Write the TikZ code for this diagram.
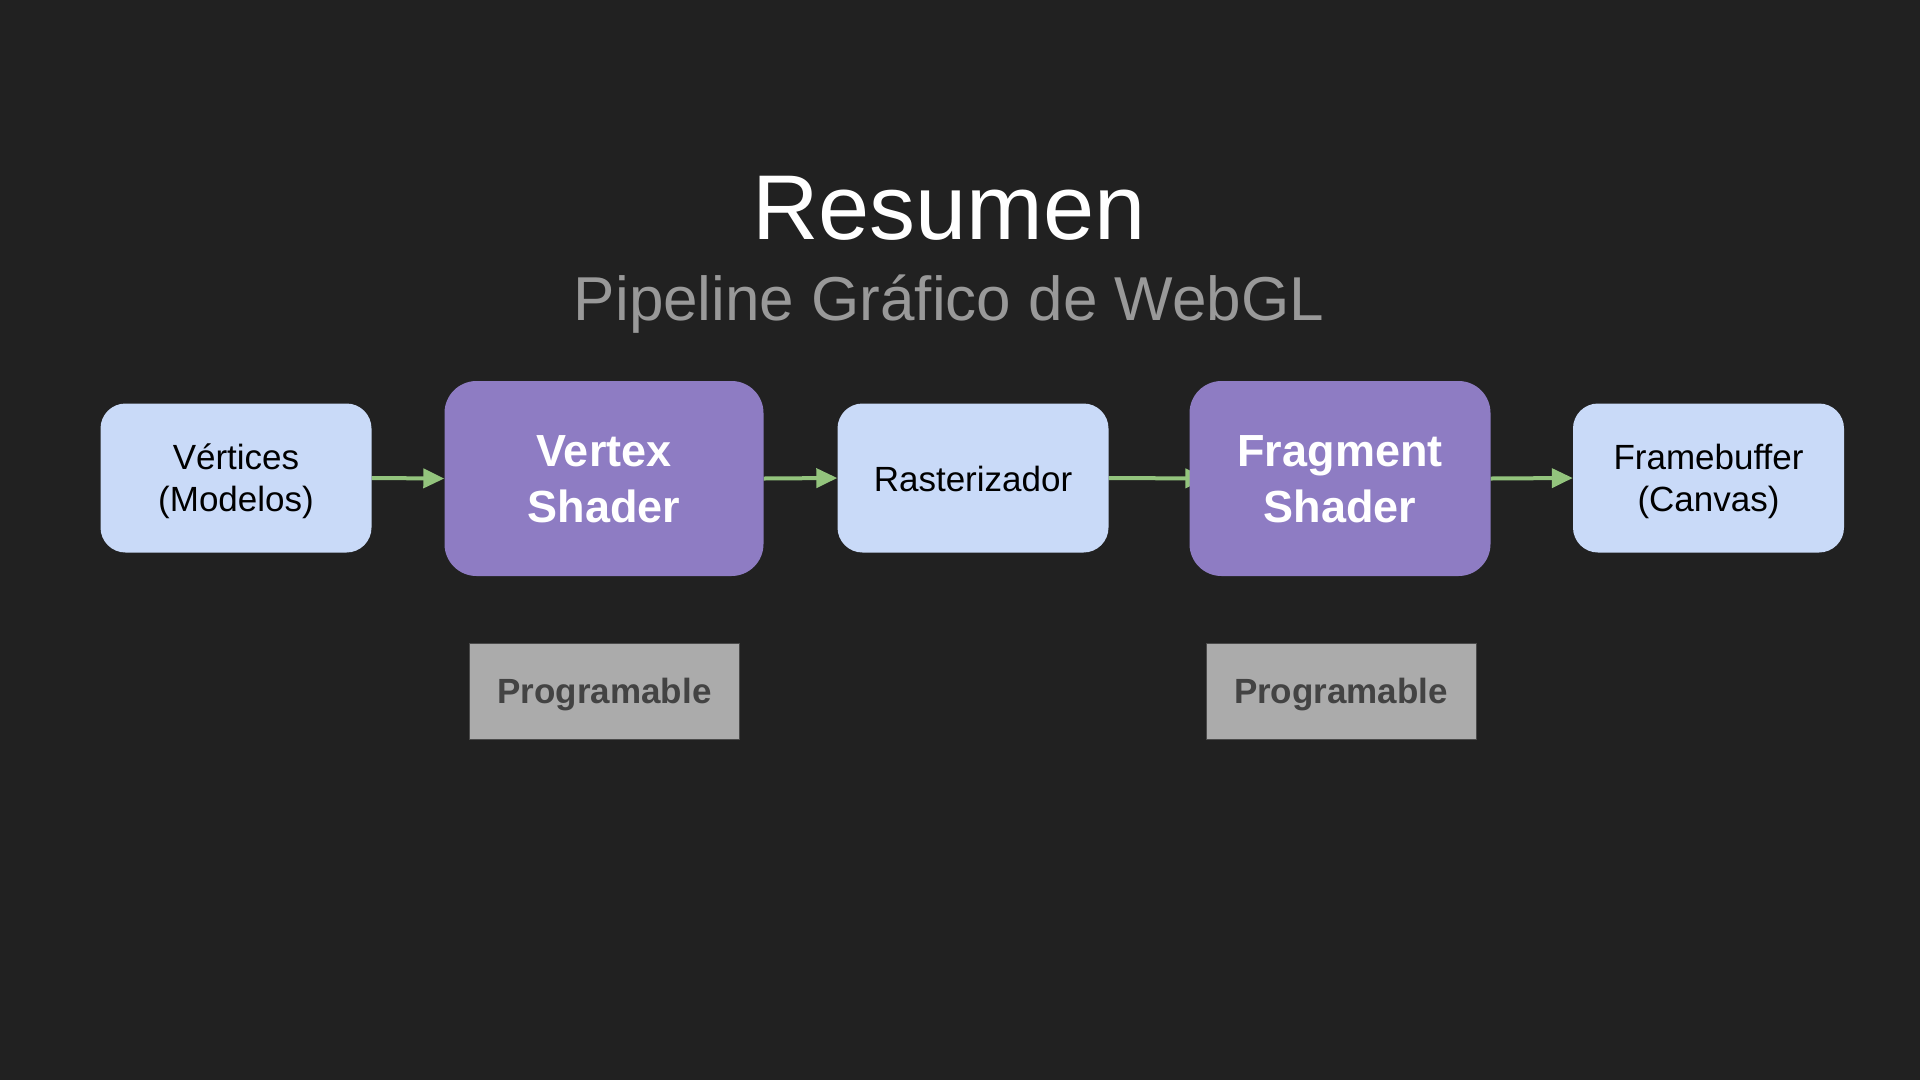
\documentclass[tikz,border=0pt]{standalone}
\usepackage{fontspec}
\setmainfont{Liberation Sans}
\usetikzlibrary{arrows.meta,calc}
\definecolor{bgc}{HTML}{212121}
\definecolor{lightbox}{HTML}{C9DAF8}
\definecolor{purplebox}{HTML}{8E7CC3}
\definecolor{arrowc}{HTML}{93C47D}
\definecolor{progfill}{HTML}{ABABAB}
\definecolor{progtext}{HTML}{434343}
\definecolor{progline}{HTML}{4A4A4A}
\definecolor{subc}{HTML}{999999}
% #1 = height, #2 = depth of the box round the first baseline
\newcommand{\mybt}[3]{\raisebox{0pt}[#1][#2]{\begin{tabular}[t]{@{}c@{}}#3\end{tabular}}}
\pgfdeclarelayer{bglayer}
\pgfdeclarelayer{connlayer}
\pgfsetlayers{bglayer,connlayer,main}
\tikzset{
  lightnode/.style={fill=lightbox, rounded corners=25pt, minimum width=271pt, minimum height=149pt,
    inner sep=0pt, text=black, font=\fontsize{35}{42}\selectfont},
  purplenode/.style={fill=purplebox, rounded corners=32pt, minimum height=195pt,
    inner sep=0pt, text=white, font=\bfseries\fontsize{45}{56}\selectfont},
  prognode/.style={fill=progfill, draw=progline, line width=1pt, minimum width=270pt, minimum height=96pt,
    inner sep=0pt, text=progtext, font=\bfseries\fontsize{35}{42}\selectfont},
  flow/.style={draw=arrowc, line width=4pt, -{Triangle[length=21pt,width=19pt]}},
}
\begin{document}
\begin{tikzpicture}[x=1pt,y=-1pt]
\begin{pgfonlayer}{bglayer}
\fill[bgc] (0,0) rectangle (1920,1080);
\end{pgfonlayer}
\useasboundingbox (0,0) rectangle (1920,1080);

\node[anchor=base, text=white, font=\fontsize{92}{110}\selectfont, inner sep=0pt] (title) at (949,239) {Resumen};
\node[anchor=base, text=subc, font=\fontsize{62}{74}\selectfont, inner sep=0pt] (subtitle) at (949,320) {Pipeline Gráfico de WebGL};

\node[lightnode] (vert) at (236,478) {\mybt{12pt}{30pt}{Vértices\\(Modelos)}};
\node[purplenode, minimum width=319pt] (vs) at (604,478.5) {\mybt{10pt}{33.6pt}{Vertex\\Shader}};
\node[lightnode] (rast) at (973,478) {\mybt{26pt}{0pt}{Rasterizador}};
\node[purplenode, minimum width=301pt] (frag) at (1340,478.5) {\mybt{10pt}{33.6pt}{Fragment\\Shader}};
\node[lightnode] (fb) at (1708.5,478) {\mybt{12pt}{30pt}{Framebuffer\\(Canvas)}};

\node[prognode] (prog1) at (604.5,691) {\mybt{24pt}{0pt}{Programable}};
\node[prognode] (prog2) at (1341,691) {\mybt{24pt}{0pt}{Programable}};

\begin{pgfonlayer}{connlayer}
\draw[flow] (vert.east) -- (vs.west);
\draw[flow] (vs.east) -- (rast.west);
\coordinate (rastend) at ($(frag.west)+(17,0)$);
\draw[flow] (rast.east) -- (rastend);
\draw[flow] (frag.east) -- (fb.west);
\end{pgfonlayer}
\end{tikzpicture}
\end{document}
